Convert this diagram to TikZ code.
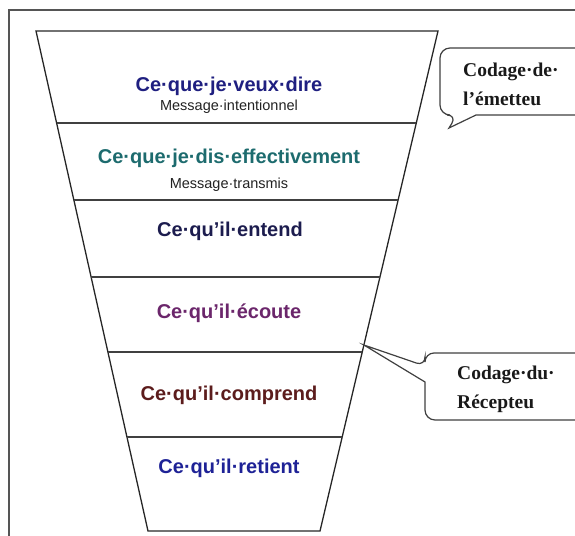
\documentclass[tikz,border=0pt]{standalone}
\usepackage{fontspec}
\setmainfont{Liberation Serif}
\setsansfont{Liberation Sans}
\usetikzlibrary{calc}
\definecolor{cA}{HTML}{1F1F80}
\definecolor{cB}{HTML}{1D6B6E}
\definecolor{cC}{HTML}{1C1C4E}
\definecolor{cD}{HTML}{6B266B}
\definecolor{cE}{HTML}{5C1C1C}
\definecolor{cF}{HTML}{1E2296}
\definecolor{txtgray}{HTML}{222222}
\definecolor{framegray}{HTML}{555555}
\tikzset{
  bigtxt/.style={font=\sffamily\bfseries\fontsize{20}{24}\selectfont, anchor=base, inner sep=0pt},
  smalltxt/.style={font=\sffamily\fontsize{14.5}{17}\selectfont, anchor=base, inner sep=0pt, text=txtgray},
  calltxt/.style={font=\rmfamily\bfseries\fontsize{19.5}{24}\selectfont, anchor=base west, inner sep=0pt, text=black!90},
  funnelline/.style={line width=1.3pt, draw=black!85},
  divline/.style={line width=1.2pt, draw=black!75},
  framestyle/.style={line width=1.5pt, draw=framegray},
  calloutline/.style={line width=1.2pt, draw=black!75, fill=white},
}
\begin{document}
\begin{tikzpicture}[x=1pt,y=-1pt]
\useasboundingbox (0,0) rectangle (575,535);
\clip (0,0) rectangle (575,535);
% frame
\draw[framestyle] (9,540) -- (9,10) -- (580,10);
% funnel corners
\coordinate (TL) at (36,31);
\coordinate (TR) at (438,31);
\coordinate (BR) at (320,531);
\coordinate (BL) at (148,531);
\draw[funnelline] (TL) -- (TR) -- (BR) -- (BL) -- cycle;
% dividers
\foreach \t/\n in {0.184/1,0.338/2,0.492/3,0.642/4,0.812/5}{
  \coordinate (dl\n) at ($(TL)!\t!(BL)$);
  \coordinate (dr\n) at ($(TR)!\t!(BR)$);
  \draw[divline] (dl\n) -- (dr\n);
}
% texts
\node[bigtxt, text=cA] (t1) at (229,91) {Ce·que·je·veux·dire};
\node[smalltxt] (s1) at (229,110) {Message·intentionnel};
\node[bigtxt, text=cB] (t2) at (229,163) {Ce·que·je·dis·effectivement};
\node[smalltxt] (s2) at (229,188) {Message·transmis};
\node[bigtxt, text=cC] (t3) at (230,236) {Ce·qu’il·entend};
\node[bigtxt, text=cD] (t4) at (229,318) {Ce·qu’il·écoute};
\node[bigtxt, text=cE] (t5) at (229,400) {Ce·qu’il·comprend};
\node[bigtxt, text=cF] (t6) at (229,473) {Ce·qu’il·retient};
% callout 1
\coordinate (tip1) at (449,128);
\draw[calloutline, rounded corners=10pt] (440,80) -- (440,115) -- (457,115) [sharp corners] -- (tip1) -- (476,115) [rounded corners=10pt] -- (595,115) -- (595,48) -- (440,48) -- cycle;
\node[calltxt] (c1a) at (463,77) {Codage·de·};
\node[calltxt] (c1b) at (463,105) {l’émetteu};
% callout 2
\coordinate (tip2) at ($(TR)!0.628!(BR)$);
\draw[calloutline, rounded corners=9pt] (500,353) -- (425,353) -- (425,366) [sharp corners] -- (tip2) -- (425,382) [rounded corners=10pt] -- (425,420) -- (595,420) -- (595,353) -- cycle;
\node[calltxt] (c2a) at (457,379) {Codage·du·};
\node[calltxt] (c2b) at (457,408) {Récepteu};
\end{tikzpicture}
\end{document}
